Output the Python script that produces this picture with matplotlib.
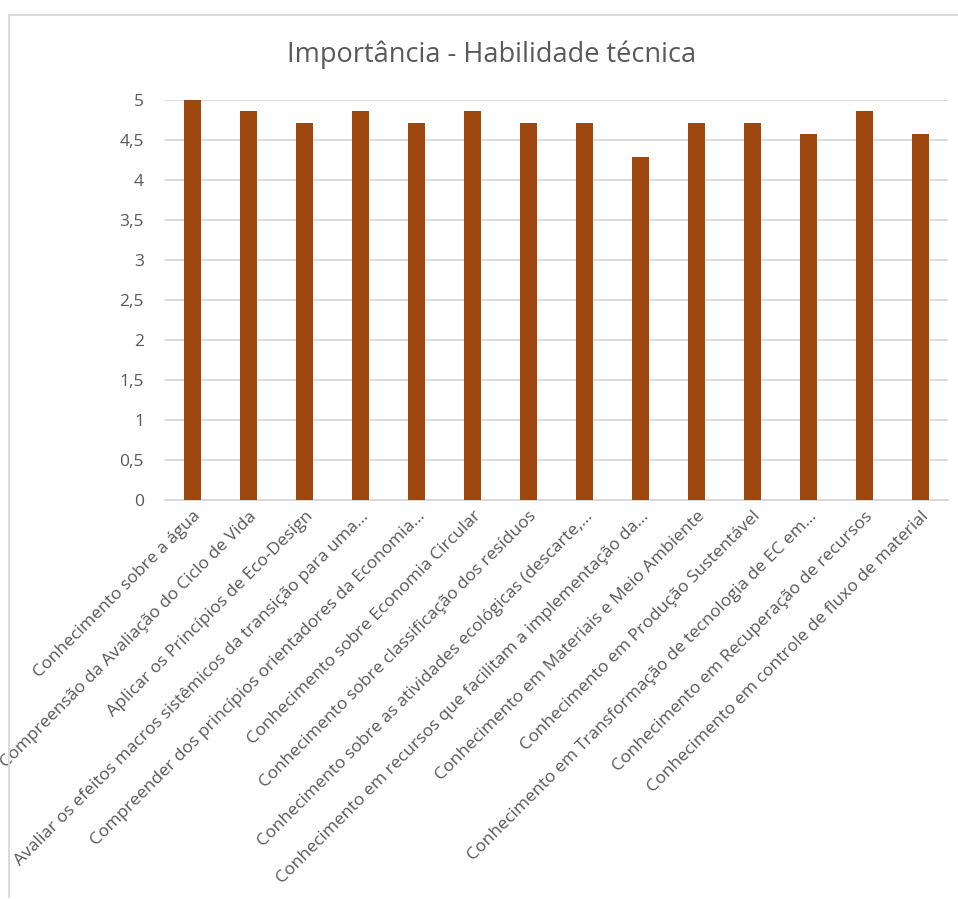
import numpy as np
import matplotlib.pyplot as plt
from matplotlib.lines import Line2D

# DATA
categories = [
    "Conhecimento sobre a água",
    "Compreensão da Avaliação do Ciclo de Vida",
    "Aplicar os Princípios de Eco-Design",
    "Avaliar os efeitos macros sistêmicos da transição para uma…",
    "Compreender dos princípios orientadores da Economia…",
    "Conhecimento sobre Economia Circular",
    "Conhecimento sobre classificação dos resíduos",
    "Conhecimento sobre as atividades ecológicas (descarte,…",
    "Conhecimento em recursos que facilitam a implementação da…",
    "Conhecimento em Materiais e Meio Ambiente",
    "Conhecimento em Produção Sustentável",
    "Conhecimento em Transformação de tecnologia de EC em…",
    "Conhecimento em Recuperação de recursos",
    "Conhecimento em controle de fluxo de material",
]
values = [5.0, 4.86, 4.71, 4.86, 4.71, 4.86, 4.71, 4.71, 4.29, 4.71, 4.71, 4.57, 4.86, 4.57]
yticks = [0, 0.5, 1, 1.5, 2, 2.5, 3, 3.5, 4, 4.5, 5]
ytick_labels = ["0", "0,5", "1", "1,5", "2", "2,5", "3", "3,5", "4", "4,5", "5"]

plt.rcParams['font.family'] = ['Open Sans', 'DejaVu Sans']

fig = plt.figure(figsize=(9.58, 8.99), dpi=100)
ax = fig.add_axes([0.172, 0.4438, 0.818, 0.445])

x = np.arange(len(categories))
ax.bar(x, values, width=0.31, color='#9E480E', zorder=3)

ax.set_xlim(-0.5, len(categories) - 0.5)
ax.set_ylim(0, 5)
ax.set_yticks(yticks)
ax.set_yticklabels(ytick_labels, fontsize=12.5, color='#595959')
ax.set_xticks(x)
ax.set_xticklabels(categories, rotation=45, ha='right', rotation_mode='anchor',
                   fontsize=12.6, color='#595959')
ax.tick_params(axis='both', length=0)
ax.tick_params(axis='y', pad=15)
ax.tick_params(axis='x', pad=6)
ax.grid(axis='y', color='#D9D9D9', linewidth=1.3, zorder=0)
for s in ['top', 'right', 'left']:
    ax.spines[s].set_visible(False)
ax.spines['bottom'].set_color('#D9D9D9')
ax.spines['bottom'].set_linewidth(1.3)

fig.text(0.513, 0.939, 'Importância - Habilidade técnica', ha='center', va='center',
         fontsize=19.5, color='#595959')

# chart frame (top and left edges visible)
fig.add_artist(Line2D([9 / 958, 1.0], [1 - 15 / 899, 1 - 15 / 899], color='#D9D9D9', linewidth=1.3))
fig.add_artist(Line2D([9 / 958, 9 / 958], [1 - 15 / 899, 1 - 897 / 899], color='#D9D9D9', linewidth=1.3))

fig.savefig('out.png', dpi=100)
